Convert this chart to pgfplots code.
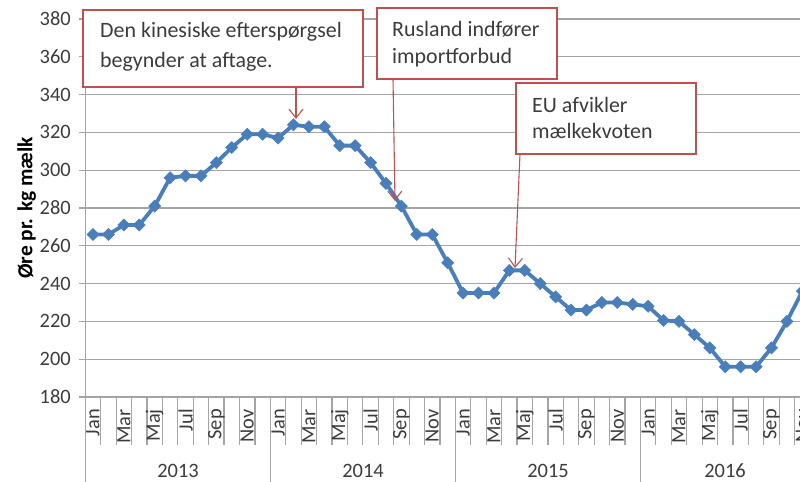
\documentclass[border=0pt]{standalone}
\usepackage{fontspec}
\setmainfont{Carlito}
\usepackage{pgfplots}
\pgfplotsset{compat=1.18}
\usetikzlibrary{arrows.meta}
\definecolor{lineblue}{RGB}{74,126,187}
\definecolor{annred}{RGB}{192,80,77}
\definecolor{gridgray}{RGB}{165,165,165}
\definecolor{txt}{RGB}{60,60,60}
\newcommand{\annfont}{\fontsize{22}{28}\selectfont}
\newcommand{\tickfont}{\fontsize{20.5}{24}\selectfont}
\begin{document}
\begin{tikzpicture}
\begin{axis}[
  name=ax,
  scale only axis,
  width=724.74bp, height=378bp,
  xmin=-0.5, xmax=46.5,
  ymin=180, ymax=380,
  ytick={180,200,...,380},
  axis x line*=bottom, axis y line*=left,
  axis line style={gridgray, line width=1.2bp, -},
  ymajorgrids, grid style={gridgray, line width=1.2bp},
  xtick={0,2,...,46},
  xticklabels={Jan,Mar,Maj,Jul,Sep,Nov,Jan,Mar,Maj,Jul,Sep,Nov,Jan,Mar,Maj,Jul,Sep,Nov,Jan,Mar,Maj,Jul,Sep,Nov},
  minor xtick={-0.5,0.5,...,46.5},
  tick align=outside,
  major tick length=6bp,
  minor tick length=48bp,
  major x tick style={draw=none},
  minor x tick style={gridgray, line width=1.2bp},
  y tick style={gridgray, line width=1.2bp},
  xticklabel style={yshift=-6bp, rotate=90, anchor=east, font=\tickfont, text=txt, inner sep=0pt},
  yticklabel style={font=\tickfont, text=txt, xshift=-5bp},
  /pgf/number format/assume math mode=true,
  ylabel={Øre pr. kg mælk},
  ylabel style={font=\fontsize{21.5}{24}\selectfont\bfseries, text=black, yshift=-3bp},
  clip mode=individual,
]
\addplot[color=lineblue, line width=3.8bp, mark=square*, mark size=4.3bp,
  mark options={rotate=45, fill=lineblue, draw=lineblue, line width=0.5bp}]
  coordinates {
  (0,266) (1,266) (2,271) (3,271) (4,281) (5,296) (6,297) (7,297) (8,304) (9,312) (10,319) (11,319)
  (12,317) (13,324) (14,323) (15,323) (16,313) (17,313) (18,304) (19,293) (20,281) (21,266) (22,266) (23,251)
  (24,235) (25,235) (26,235) (27,247) (28,247) (29,240) (30,233) (31,226) (32,226) (33,230) (34,230) (35,229)
  (36,228) (37,220.5) (38,220) (39,213) (40,206) (41,196) (42,196) (43,196) (44,206) (45,220) (46,236)
  };
\end{axis}
\pgfresetboundingbox
\begin{scope}[x=1bp, y=-1bp, shift={(ax.south west)}, shift={(-85.3,-397)}]
  \path[use as bounding box] (0,0) rectangle (800,482);
  % year separators and labels
  \foreach \xx in {85.3,270.4,455.5,640.5} {\draw[gridgray, line width=1.2bp] (\xx,397) -- (\xx,482);}
  \foreach \xx/\yy in {178/2013,363/2014,548/2015,725/2016} {\node[font=\tickfont, text=txt] at (\xx,471) {\yy};}
  % annotation 1
  \draw[annred, line width=1.2bp, fill=white] (83,10) rectangle (363,87);
  \node[anchor=base west, inner sep=0pt, font=\annfont, text=txt] at (100,38) {Den kinesiske efterspørgsel};
  \node[anchor=base west, inner sep=0pt, font=\annfont, text=txt] at (100,68) {begynder at aftage.};
  \draw[annred, line width=1.1bp, -{Straight Barb[length=9bp, width=14bp]}] (296,87) -- (296,119);
  % annotation 2
  \draw[annred, line width=1.2bp, fill=white] (377,8) rectangle (557,79);
  \node[anchor=base west, inner sep=0pt, font=\annfont, text=txt] at (392,37) {Rusland indfører};
  \node[anchor=base west, inner sep=0pt, font=\annfont, text=txt] at (392,64) {importforbud};
  \draw[annred, line width=1.1bp, -{Straight Barb[length=9bp, width=14bp]}] (393,79) -- (395,201);
  % annotation 3
  \draw[annred, line width=1.2bp, fill=white] (516,83) rectangle (696,154);
  \node[anchor=base west, inner sep=0pt, font=\annfont, text=txt] at (532,113) {EU afvikler};
  \node[anchor=base west, inner sep=0pt, font=\annfont, text=txt] at (532,139) {mælkekvoten};
  \draw[annred, line width=1.1bp, -{Straight Barb[length=9bp, width=14bp]}] (520,154) -- (515,268);
\end{scope}
\end{tikzpicture}
\end{document}
